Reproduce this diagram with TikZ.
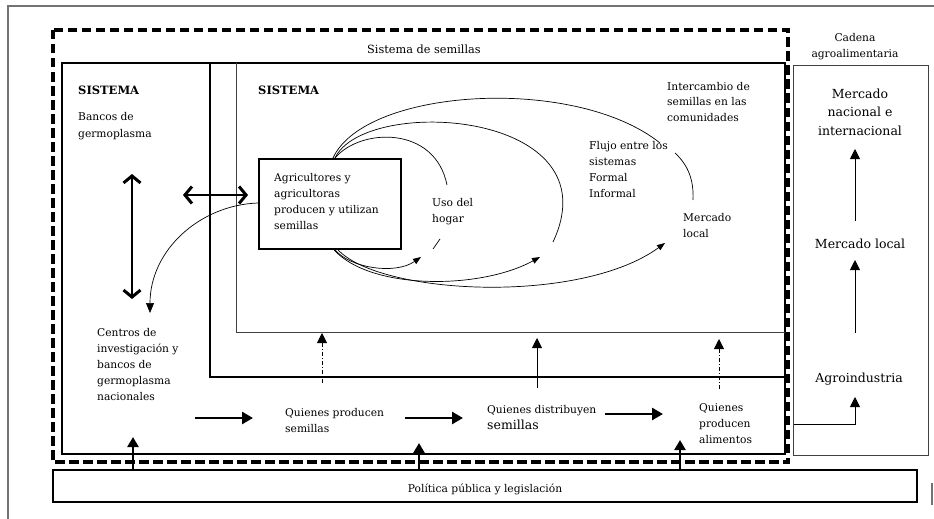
\documentclass[tikz,border=0pt]{standalone}
\usepackage{fontspec}
\setmainfont{DejaVu Serif}
\usetikzlibrary{arrows.meta}

\begin{document}
\begin{tikzpicture}[x=1pt,y=-1pt,
  pageframe/.style={draw=black!55, line width=1.2pt},
  heavy/.style={draw, line width=1.8pt},
  light/.style={draw=black!75, line width=0.9pt},
  dashframe/.style={draw, line width=3.2pt, dash pattern=on 9.5pt off 4.5pt},
  % multi-line labels are placed by the baseline of their last line
  txt/.style={inner sep=0pt, anchor=base west, align=left, font=\fontsize{10.7}{16}\selectfont},
  txtc/.style={inner sep=0pt, anchor=base, align=center, font=\fontsize{10.7}{16}\selectfont},
  txtbig/.style={inner sep=0pt, anchor=base, align=center, font=\fontsize{12.5}{18.5}\selectfont},
  hdr/.style={inner sep=0pt, anchor=base west, font=\fontsize{11.5}{14}\selectfont\bfseries},
  ttl/.style={inner sep=0pt, anchor=base, font=\fontsize{11.3}{14}\selectfont},
  dblarrow/.style={line width=1.2pt, {Straight Barb[length=7pt,width=17pt,line width=3pt]}-{Straight Barb[length=7pt,width=17pt,line width=3pt]}},
  bigarrow/.style={line width=2.6pt, -{Triangle[length=11pt,width=12pt]}},
  uparrow/.style={line width=2.6pt, -{Triangle[length=10pt,width=11pt]}},
  slimarrow/.style={line width=0.9pt, -{Triangle[length=10pt,width=10pt]}},
  dotarrow/.style={line width=0.9pt, dash pattern=on 4pt off 2pt on 1pt off 2pt, -{Triangle[length=10pt,width=10pt]}},
  flow/.style={line width=0.7pt},
  flowarrow/.style={line width=0.7pt, -{Triangle[length=8pt,width=6pt]}},
  bendarrow/.style={line width=0.7pt, -{Triangle[length=10pt,width=8pt]}}
]
\useasboundingbox (0,0) rectangle (934,519);

% page frame
\draw[pageframe] (8,519) -- (8,6) -- (934,6);
\draw[pageframe] (932,483) -- (932,505);

% seed system and its subsystems
\draw[dashframe] (53,30) rectangle (788,462);
\draw[heavy] (62,63) rectangle (785,454);
\draw[heavy] (210,63) -- (210,377) -- (785,377);
\draw[light] (236,63) -- (236,332) -- (785,332);

% agrifood chain and policy
\draw[light] (793,65) rectangle (928,455);
\draw[heavy] (53,470) rectangle (917,502);

% farmers box
\node[heavy, minimum width=142pt, minimum height=90pt, inner sep=0pt, anchor=north west] (agr) at (258,158) {};

% texts
\node[ttl] (sdsem) at (424,54) {Sistema de semillas};
\node[hdr] (sis1) at (78,94) {SISTEMA};
\node[txt, font=\fontsize{10.7}{17}\selectfont] (bancos) at (78,137) {Bancos de\\germoplasma};
\node[hdr] (sis2) at (258,94) {SISTEMA};
\node[txt] (agrtxt) at (274,229) {Agricultores y\\agricultoras\\producen y utilizan\\semillas};
\node[txt] (hogar) at (432,222) {Uso del\\hogar};
\node[txt] (flujo) at (589,197) {Flujo entre los\\sistemas\\Formal\\Informal};
\node[txt, font=\fontsize{10.7}{15.5}\selectfont] (interc) at (667,121) {Intercambio de\\semillas en las\\comunidades};
\node[txt] (mloc) at (683,237) {Mercado\\local};
\node[txt] (centros) at (97,400) {Centros de\\investigación y\\bancos de\\germoplasma\\nacionales};
\node[txt] (qps) at (285,432) {Quienes producen\\semillas};
\node[txt] (qds) at (487,429) {Quienes distribuyen\\{\fontsize{12.5}{16}\selectfont semillas}};
\node[txt] (qpa) at (699,443) {Quienes\\producen\\alimentos};
\node[txtc] (cadena) at (855,58) {Cadena\\agroalimentaria};
\node[txtbig] (mnac) at (860,135) {Mercado\\nacional e\\internacional};
\node[txtbig] (mlocal) at (860,248) {Mercado local};
\node[txtbig] (agroind) at (859,382) {Agroindustria};
\node[txtc] (pol) at (485,492) {Política pública y legislación};

% free ends of the connectors
\coordinate (vtop) at (132,174);
\coordinate (vbot) at (132,299);
\coordinate (hl) at (183,195);
\coordinate (hr) at (248,195);
\coordinate (ctip) at (150,313);
\coordinate (hogarTop) at (447,185);
\coordinate (hogarA) at (433,249);
\coordinate (hogarB) at (440,239);
\coordinate (hogarTip) at (421,257);
\coordinate (flujoEnd) at (553,242);
\coordinate (flujoTip) at (540,257);
\coordinate (intEnd) at (660,143);
\coordinate (intA) at (675,153);
\coordinate (intB) at (693,200);
\coordinate (mlocTip) at (665,243);
\coordinate (a1s) at (195,418); \coordinate (a1e) at (253,418);
\coordinate (a2s) at (405,418); \coordinate (a2e) at (463,418);
\coordinate (a3s) at (605,414); \coordinate (a3e) at (663,414);
\coordinate (u1s) at (322,383); \coordinate (u1e) at (322,333);
\coordinate (u2s) at (537,388); \coordinate (u2e) at (537,338);
\coordinate (u3s) at (719,389); \coordinate (u3e) at (719,339);
\coordinate (p1s) at (133,470); \coordinate (p1e) at (133,437);
\coordinate (p2s) at (419,470); \coordinate (p2e) at (419,443);
\coordinate (p3s) at (680,470); \coordinate (p3e) at (680,440);
\coordinate (r1s) at (855,221); \coordinate (r1e) at (855,149);
\coordinate (r2s) at (855,333); \coordinate (r2e) at (855,260);
\coordinate (r3s) at (794,424); \coordinate (r3c) at (855,424); \coordinate (r3e) at (855,397);

% gene banks <-> research centres, system <-> farmers
\draw[dblarrow] (vtop) -- (vbot);
\draw[dblarrow] (hl) -- (hr);
\draw[bendarrow] ([yshift=-45pt]agr.north west) .. controls (200,205) and (150,250) .. (ctip);

% seed flows leaving the farmers
\draw[flow] ([xshift=77pt]agr.north west) .. controls (360,128) and (435,125) .. (hogarTop);
\draw[flow] (hogarA) -- (hogarB);
\draw[flowarrow] ([xshift=77pt]agr.south west) .. controls (350,268) and (395,275) .. (hogarTip);

\draw[flow] ([xshift=77pt]agr.north west) .. controls (365,95) and (615,110) .. (flujoEnd);
\draw[flowarrow] ([xshift=76pt]agr.south west) .. controls (370,290) and (480,290) .. (flujoTip);

\draw[flow] ([xshift=75pt]agr.north west) .. controls (365,88) and (575,75) .. (intEnd);
\draw[flow] (intA) .. controls (688,165) and (694,180) .. (intB);
\draw[flowarrow] ([xshift=80pt]agr.south west) .. controls (380,295) and (580,305) .. (mlocTip);

% actors of the chain
\draw[bigarrow] (a1s) -- (a1e);
\draw[bigarrow] (a2s) -- (a2e);
\draw[bigarrow] (a3s) -- (a3e);
\draw[dotarrow] (u1s) -- (u1e);
\draw[slimarrow] (u2s) -- (u2e);
\draw[dotarrow] (u3s) -- (u3e);

% policy acting on the system
\draw[uparrow] (p1s) -- (p1e);
\draw[uparrow] (p2s) -- (p2e);
\draw[uparrow] (p3s) -- (p3e);

% agrifood chain
\draw[slimarrow] (r1s) -- (r1e);
\draw[slimarrow] (r2s) -- (r2e);
\draw[slimarrow] (r3s) -- (r3c) -- (r3e);
\end{tikzpicture}
\end{document}
